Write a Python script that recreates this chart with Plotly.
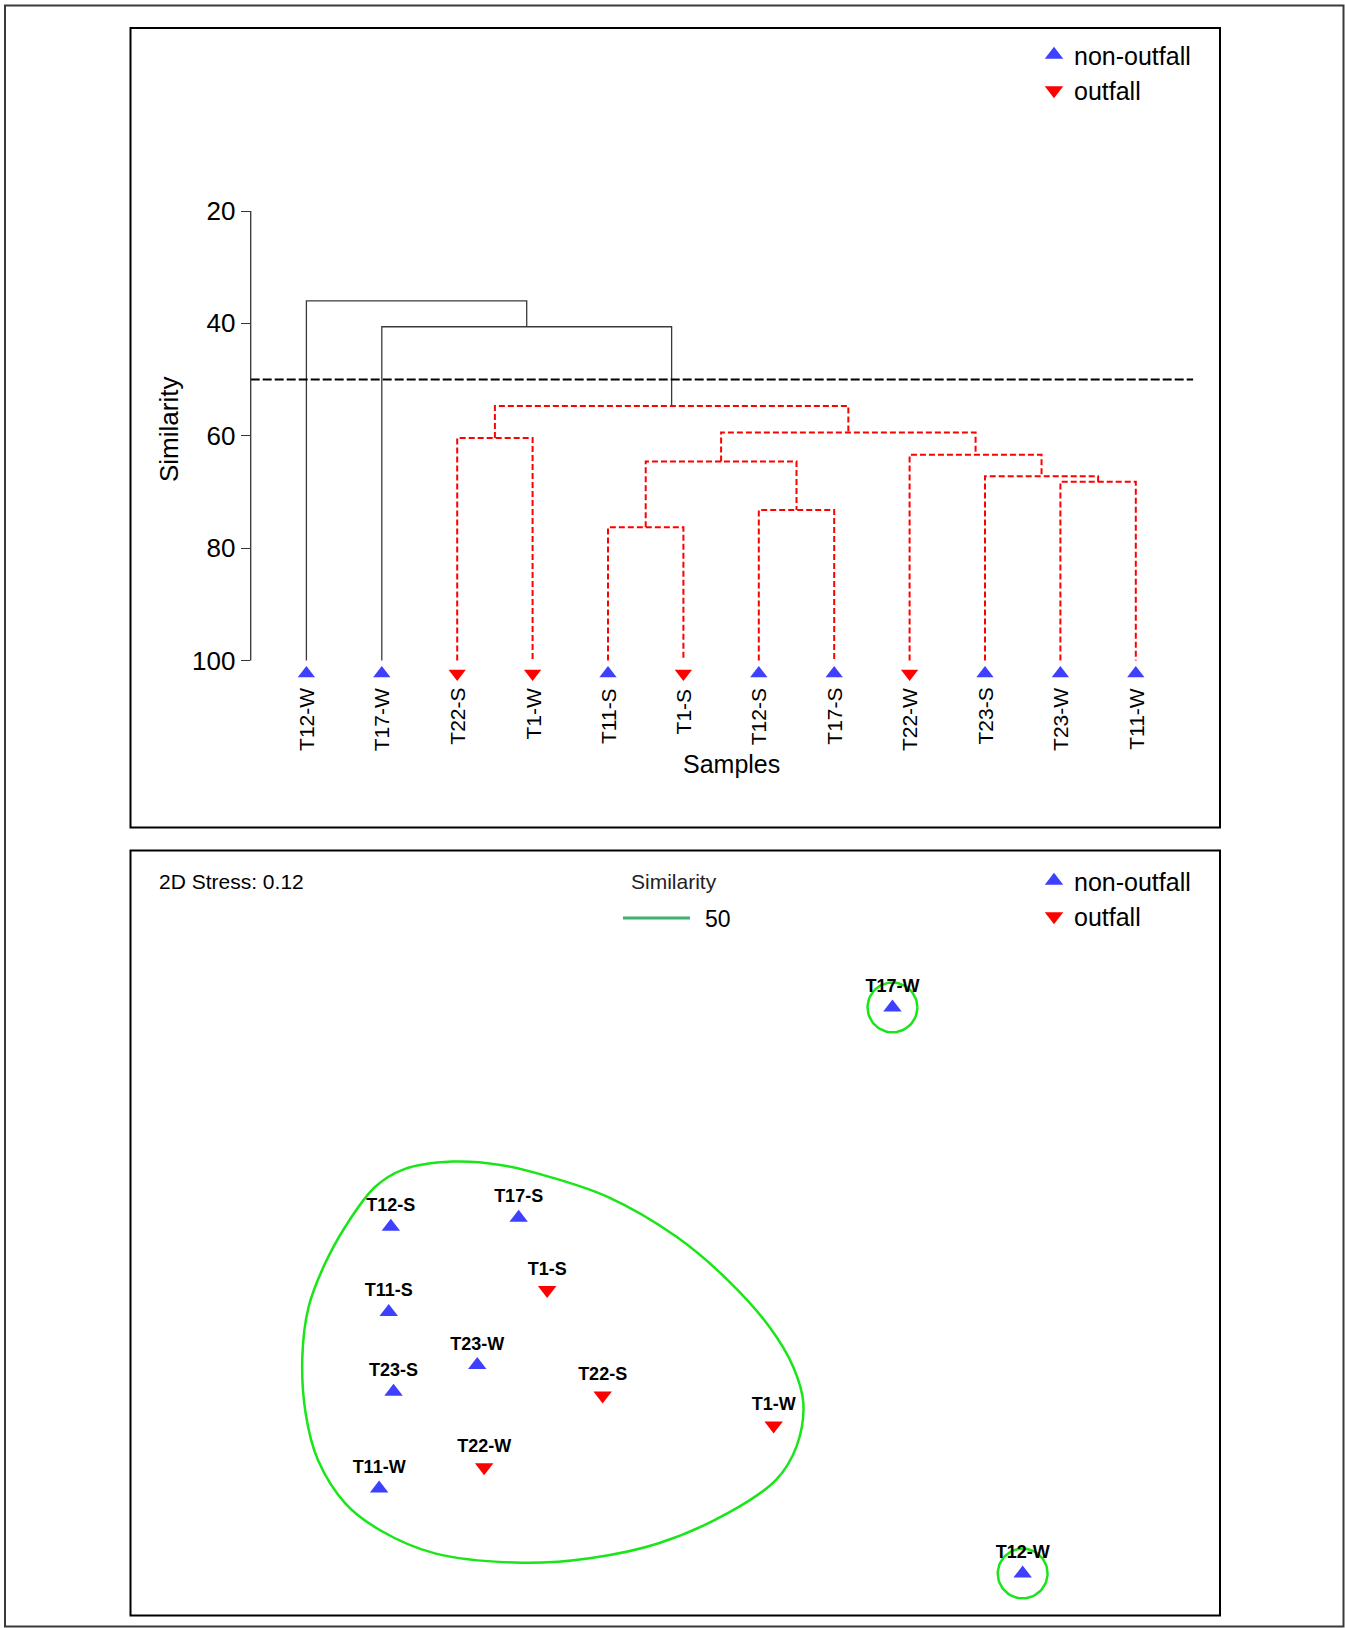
import math
import plotly.graph_objects as go

# ------------------------------------------------------------------ data
leaves = ["T12-W", "T17-W", "T22-S", "T1-W", "T11-S", "T1-S",
          "T12-S", "T17-S", "T22-W", "T23-S", "T23-W", "T11-W"]
leaf_group = ["non-outfall", "non-outfall", "outfall", "outfall", "non-outfall", "outfall",
              "non-outfall", "non-outfall", "outfall", "non-outfall", "non-outfall", "non-outfall"]

# agglomeration steps ("#k" = result of step k, 1-based)
merge_left = ["T11-S", "T12-S", "T23-W", "T23-S", "#1", "T22-W", "T22-S", "#5", "#7", "T17-W", "T12-W"]
merge_right = ["T1-S", "T17-S", "T11-W", "#3", "#2", "#4", "T1-W", "#6", "#8", "#9", "#10"]
merge_similarity = [76.3, 73.2, 68.2, 67.2, 64.6, 63.4, 60.4, 59.4, 54.7, 40.6, 36.0]
cut_similarity = 50
sim_ticks = [20, 40, 60, 80, 100]

# nMDS ordination
mds_labels = ["T17-W", "T12-W", "T12-S", "T17-S", "T1-S", "T11-S",
              "T23-W", "T23-S", "T22-S", "T1-W", "T22-W", "T11-W"]
mds_x = [0.724, 1.158, -0.948, -0.522, -0.427, -0.955, -0.660, -0.939, -0.242, 0.328, -0.637, -0.987]
mds_y = [0.752, -1.135, 0.021, 0.051, -0.190, -0.263, -0.440, -0.529, -0.542, -0.642, -0.781, -0.852]
stress = 0.12

# outline of the 50 % similarity cluster in ordination space
contour_x = [-0.744, -0.905, -1.000, -1.100, -1.172, -1.222, -1.243, -1.232, -1.191, -1.100,
             -0.985, -0.801, -0.514, -0.285, -0.055, 0.175, 0.336, 0.404, 0.427, 0.393,
             0.313, 0.175, 0.003, -0.227, -0.422, -0.583]
contour_y = [0.238, 0.212, 0.154, 0.021, -0.112, -0.246, -0.412, -0.601, -0.757, -0.901,
             -0.990, -1.068, -1.099, -1.084, -1.034, -0.934, -0.823, -0.712, -0.568, -0.446,
             -0.312, -0.157, -0.012, 0.121, 0.188, 0.227]

# ------------------------------------------------------------------ style / layout constants
W, H = 1345, 1628
FONT = "Liberation Sans, Arial, Helvetica, sans-serif"
BLUE = "#3f3fff"
RED = "#ff0000"
GREEN = "#19e619"
SIMGREEN = "#3cb371"
group_style = {"non-outfall": ("triangle-up", BLUE), "outfall": ("triangle-down", RED)}


def px_x(p):
    return p / W


def px_y(p):
    return 1 - p / H


# top panel geometry (pixels)
axis_px = 250.7
top_right_px = 1220.0
leaf0_px, leaf_step_px = 306.4, 75.4
sim20_px, px_per_sim = 211.0, 5.619
top_area = (195.0, 700.0)
x1_range = [(axis_px - leaf0_px) / leaf_step_px, (top_right_px - leaf0_px) / leaf_step_px]
y1_range = [20 + (top_area[1] - sim20_px) / px_per_sim, 20 + (top_area[0] - sim20_px) / px_per_sim]
leaf_marker_sim = 102.3

# bottom panel geometry
bot_box = (130.5, 850.5, 1220.0, 1615.5)
x2_range = [-1.8158, 1.8158]
y2_range = [-1.275, 1.275]

fig = go.Figure()

# ------------------------------------------------------------------ dendrogram
pos = {name: (i, 100.0) for i, name in enumerate(leaves)}
node_pos = {}


def node(ref):
    if ref.startswith("#"):
        return node_pos[int(ref[1:])]
    return pos[ref]


red_x, red_y, blk_x, blk_y = [], [], [], []
for k, (l, r, s) in enumerate(zip(merge_left, merge_right, merge_similarity), start=1):
    xl, hl = node(l)
    xr, hr = node(r)
    xs = [xl, xl, xr, xr, None]
    ys = [hl, s, s, hr, None]
    if s >= cut_similarity:
        red_x += xs
        red_y += ys
    else:
        blk_x += xs
        blk_y += ys
    node_pos[k] = ((xl + xr) / 2, s)

fig.add_trace(go.Scatter(x=blk_x, y=blk_y, mode="lines", line=dict(color="#3a3a3a", width=1.3),
                         showlegend=False, hoverinfo="skip", xaxis="x", yaxis="y"))
fig.add_trace(go.Scatter(x=red_x, y=red_y, mode="lines",
                         line=dict(color=RED, width=2, dash="6px,3px"),
                         showlegend=False, hoverinfo="skip", xaxis="x", yaxis="y"))
# cut line
fig.add_trace(go.Scatter(x=[x1_range[0], len(leaves) - 1 + 0.76], y=[cut_similarity, cut_similarity],
                         mode="lines", line=dict(color="black", width=2, dash="9px,3px"),
                         showlegend=False, hoverinfo="skip", xaxis="x", yaxis="y"))

# leaf markers
for g in ["non-outfall", "outfall"]:
    sym, col = group_style[g]
    idx = [i for i, gg in enumerate(leaf_group) if gg == g]
    fig.add_trace(go.Scatter(x=idx, y=[leaf_marker_sim] * len(idx), mode="markers",
                             marker=dict(symbol=sym, color=col, size=15),
                             cliponaxis=False, showlegend=False, xaxis="x", yaxis="y"))

# legend-only entries (top and bottom)
for leg in ["legend", "legend2"]:
    for g in ["non-outfall", "outfall"]:
        sym, col = group_style[g]
        fig.add_trace(go.Scatter(x=[None], y=[None], mode="markers", name=g,
                                 marker=dict(symbol=sym, color=col, size=16),
                                 legend=leg, showlegend=True,
                                 xaxis="x" if leg == "legend" else "x2",
                                 yaxis="y" if leg == "legend" else "y2"))

# ------------------------------------------------------------------ nMDS
fig.add_trace(go.Scatter(x=contour_x + contour_x[:1], y=contour_y + contour_y[:1], mode="lines",
                         line=dict(color=GREEN, width=2.5, shape="spline", smoothing=1.0),
                         showlegend=False, hoverinfo="skip", xaxis="x2", yaxis="y2"))

# singleton clusters at the cut level get a circle
clusters_single = [leaves[0], leaves[1]]
circle_r = 0.083
for name in clusters_single:
    j = mds_labels.index(name)
    cx, cy = mds_x[j], mds_y[j]
    ts = [2 * math.pi * t / 72 for t in range(73)]
    fig.add_trace(go.Scatter(x=[cx + circle_r * math.cos(t) for t in ts],
                             y=[cy + circle_r * math.sin(t) for t in ts],
                             mode="lines", line=dict(color=GREEN, width=2.5),
                             showlegend=False, hoverinfo="skip", xaxis="x2", yaxis="y2"))

grp_of = dict(zip(leaves, leaf_group))
for g in ["non-outfall", "outfall"]:
    sym, col = group_style[g]
    idx = [i for i, n in enumerate(mds_labels) if grp_of[n] == g]
    fig.add_trace(go.Scatter(x=[mds_x[i] for i in idx], y=[mds_y[i] for i in idx],
                             text=[mds_labels[i] for i in idx], mode="markers+text",
                             texttemplate="<b>%{text}</b>", textposition="top center",
                             textfont=dict(size=18, color="black", family=FONT),
                             marker=dict(symbol=sym, color=col, size=16),
                             cliponaxis=False, showlegend=False, xaxis="x2", yaxis="y2"))

# ------------------------------------------------------------------ annotations
ann = []
for i, name in enumerate(leaves):
    ann.append(dict(x=i, xref="x", y=px_y(686), yref="paper", text=name, textangle=-90,
                    showarrow=False, xanchor="center", yanchor="top",
                    font=dict(size=21, color="black", family=FONT)))
ann.append(dict(x=px_x(731.6), y=px_y(764), xref="paper", yref="paper", text="Samples",
                showarrow=False, xanchor="center", yanchor="middle",
                font=dict(size=25, color="black", family=FONT)))
ann.append(dict(x=px_x(169), y=px_y(430), xref="paper", yref="paper", text="Similarity",
                textangle=-90, showarrow=False, xanchor="center", yanchor="middle",
                font=dict(size=26, color="black", family=FONT)))
ann.append(dict(x=px_x(156.5), y=px_y(882), xref="paper", yref="paper",
                text=f"2D Stress: {stress:.2f}", showarrow=False, xanchor="left", yanchor="middle",
                font=dict(size=21, color="black", family=FONT)))
ann.append(dict(x=px_x(674), y=px_y(882), xref="paper", yref="paper", text="Similarity",
                showarrow=False, xanchor="center", yanchor="middle",
                font=dict(size=21, color="#222", family=FONT)))
ann.append(dict(x=px_x(703), y=px_y(919), xref="paper", yref="paper", text=str(cut_similarity),
                showarrow=False, xanchor="left", yanchor="middle",
                font=dict(size=23, color="black", family=FONT)))

shapes = [
    # outer frame
    dict(type="rect", xref="paper", yref="paper", x0=px_x(5), x1=px_x(1343.5), y0=px_y(1626.5),
         y1=px_y(5.5), line=dict(color="#3a3a3a", width=2)),
    # panel frames
    dict(type="rect", xref="paper", yref="paper", x0=px_x(130.5), x1=px_x(1220), y0=px_y(827.5),
         y1=px_y(28), line=dict(color="black", width=2)),
    dict(type="rect", xref="paper", yref="paper", x0=px_x(bot_box[0]), x1=px_x(bot_box[2]),
         y0=px_y(bot_box[3]), y1=px_y(bot_box[1]), line=dict(color="black", width=2)),
    # y axis line (only over the tick span)
    dict(type="line", xref="x domain", yref="y", x0=0, x1=0, y0=sim_ticks[0], y1=sim_ticks[-1],
         line=dict(color="#333", width=1.3)),
    # similarity key line
    dict(type="line", xref="paper", yref="paper", x0=px_x(623), x1=px_x(690), y0=px_y(918),
         y1=px_y(918), line=dict(color=SIMGREEN, width=3)),
]

legend_common = dict(font=dict(size=25, color="black", family=FONT), bgcolor="rgba(0,0,0,0)",
                     xanchor="left", yanchor="top", tracegroupgap=0, itemsizing="trace")

fig.update_layout(
    width=W, height=H, margin=dict(l=0, r=0, t=0, b=0),
    paper_bgcolor="white", plot_bgcolor="rgba(0,0,0,0)",
    font=dict(family=FONT, color="black"),
    xaxis=dict(domain=[px_x(axis_px), px_x(top_right_px)], range=x1_range, visible=False,
               showgrid=False, zeroline=False),
    yaxis=dict(domain=[px_y(top_area[1]), px_y(top_area[0])], range=y1_range,
               tickvals=sim_ticks, ticks="outside", ticklen=9, tickwidth=1.3, tickcolor="#333",
               tickfont=dict(size=26, color="black", family=FONT), showgrid=False,
               zeroline=False, showline=False, ticklabelstandoff=0),
    xaxis2=dict(domain=[px_x(bot_box[0]), px_x(bot_box[2])], range=x2_range, visible=False,
                anchor="y2"),
    yaxis2=dict(domain=[px_y(bot_box[3]), px_y(bot_box[1])], range=y2_range, visible=False,
                anchor="x2"),
    legend=dict(x=px_x(1034), y=px_y(32), **legend_common),
    legend2=dict(x=px_x(1034), y=px_y(858), **legend_common),
    annotations=ann,
    shapes=shapes,
)

fig.write_html("out.html", config={"displayModeBar": False},
               post_script="document.body.style.margin='0px';")
